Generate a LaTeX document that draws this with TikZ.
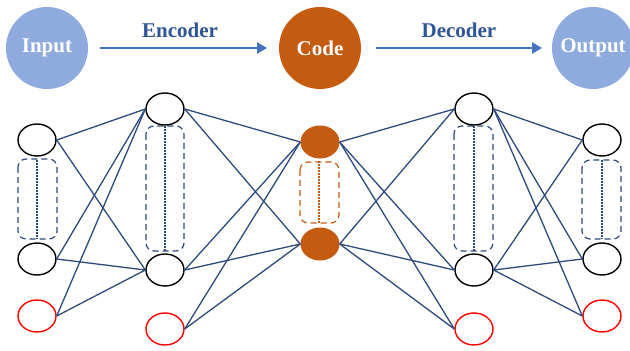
\documentclass[tikz,border=0pt]{standalone}
\usepackage{fontspec}
\setmainfont{Liberation Serif}
\usetikzlibrary{arrows.meta,shapes.geometric}

\definecolor{lightblue}{HTML}{8FAADC}
\definecolor{codeorange}{HTML}{C55A11}
\definecolor{arrowblue}{HTML}{4472C4}
\definecolor{labelblue}{HTML}{2F5597}
\definecolor{wireblue}{HTML}{2E4A7D}
\definecolor{biasred}{HTML}{FF0000}

\tikzset{
  bigdisc/.style={circle, minimum size=82pt, inner sep=0pt, text=white,
    font=\fontsize{21}{24}\selectfont\bfseries},
  flowarrow/.style={draw=arrowblue, line width=2.4pt,
    -{Triangle[length=10pt,width=11pt]}},
  flowlabel/.style={text=labelblue, font=\fontsize{21}{24}\selectfont\bfseries},
  neuron/.style={ellipse, minimum width=38pt, minimum height=32pt, inner sep=0pt,
    draw=black, line width=1.4pt, fill=white},
  bias/.style={neuron, draw=biasred},
  codeneuron/.style={ellipse, minimum width=39pt, minimum height=33pt, inner sep=0pt,
    fill=codeorange},
  wire/.style={draw=wireblue, line width=1.3pt},
  groupbox/.style={draw=wireblue, line width=1.2pt, dash pattern=on 6pt off 4pt,
    rounded corners=8pt},
  groupdots/.style={draw=wireblue, line width=2pt, dash pattern=on 1.5pt off 1.5pt},
  codebox/.style={groupbox, draw=codeorange},
  codedots/.style={groupdots, draw=codeorange}
}

\begin{document}
\begin{tikzpicture}[x=1pt, y=-1pt]
\useasboundingbox (0,0) rectangle (630,351);

% top row: input -> code -> output
\node[bigdisc, fill=lightblue] (input) at (47,48) {Input};
\node[bigdisc, fill=codeorange] (code) at (320,48) {Code};
\node[bigdisc, fill=lightblue] (output) at (593,48) {Output};
\coordinate (encA) at (100,48);
\coordinate (encB) at (267,48);
\coordinate (decA) at (376,48);
\coordinate (decB) at (542,48);
\draw[flowarrow] (encA) -- (encB);
\draw[flowarrow] (decA) -- (decB);
\node[flowlabel] (enc) at (180,30) {Encoder};
\node[flowlabel] (dec) at (459,30) {Decoder};

% grouping boxes for the hidden units of each layer
\draw[groupbox] (18,159) rectangle (57,239);
\draw[groupdots] (37,160) -- (37,239);
\draw[groupbox] (146,126) rectangle (184,251);
\draw[groupdots] (165,126) -- (165,251);
\draw[codebox] (300,162) rectangle (339,223);
\draw[codedots] (319,161) -- (319,223);
\draw[groupbox] (454,126) rectangle (493,251);
\draw[groupdots] (474,126) -- (474,251);
\draw[groupbox] (582,160) rectangle (621,239);
\draw[groupdots] (602,160) -- (602,239);

% neurons
\node[neuron] (a1) at (37,140) {};
\node[neuron] (a2) at (37,259) {};
\node[bias]   (ab) at (37,316) {};
\node[neuron] (b1) at (165,109) {};
\node[neuron] (b2) at (165,270) {};
\node[bias]   (bb) at (165,329) {};
\node[codeneuron] (c1) at (320,142) {};
\node[codeneuron] (c2) at (320,244) {};
\node[neuron] (d1) at (474,109) {};
\node[neuron] (d2) at (474,270) {};
\node[bias]   (db) at (474,329) {};
\node[neuron] (e1) at (602,140) {};
\node[neuron] (e2) at (602,259) {};
\node[bias]   (eb) at (602,316) {};

% connections between consecutive layers
\foreach \s in {a1,a2,ab} \foreach \t in {b1,b2}
  \draw[wire] (\s.east) -- (\t.west);
\foreach \s in {b1,b2,bb} \foreach \t in {c1,c2}
  \draw[wire] (\s.east) -- (\t.west);
\foreach \s in {c1,c2} \foreach \t in {d1,d2,db}
  \draw[wire] (\s.east) -- (\t.west);
\foreach \s in {d1,d2} \foreach \t in {e1,e2,eb}
  \draw[wire] (\s.east) -- (\t.west);
\end{tikzpicture}
\end{document}
